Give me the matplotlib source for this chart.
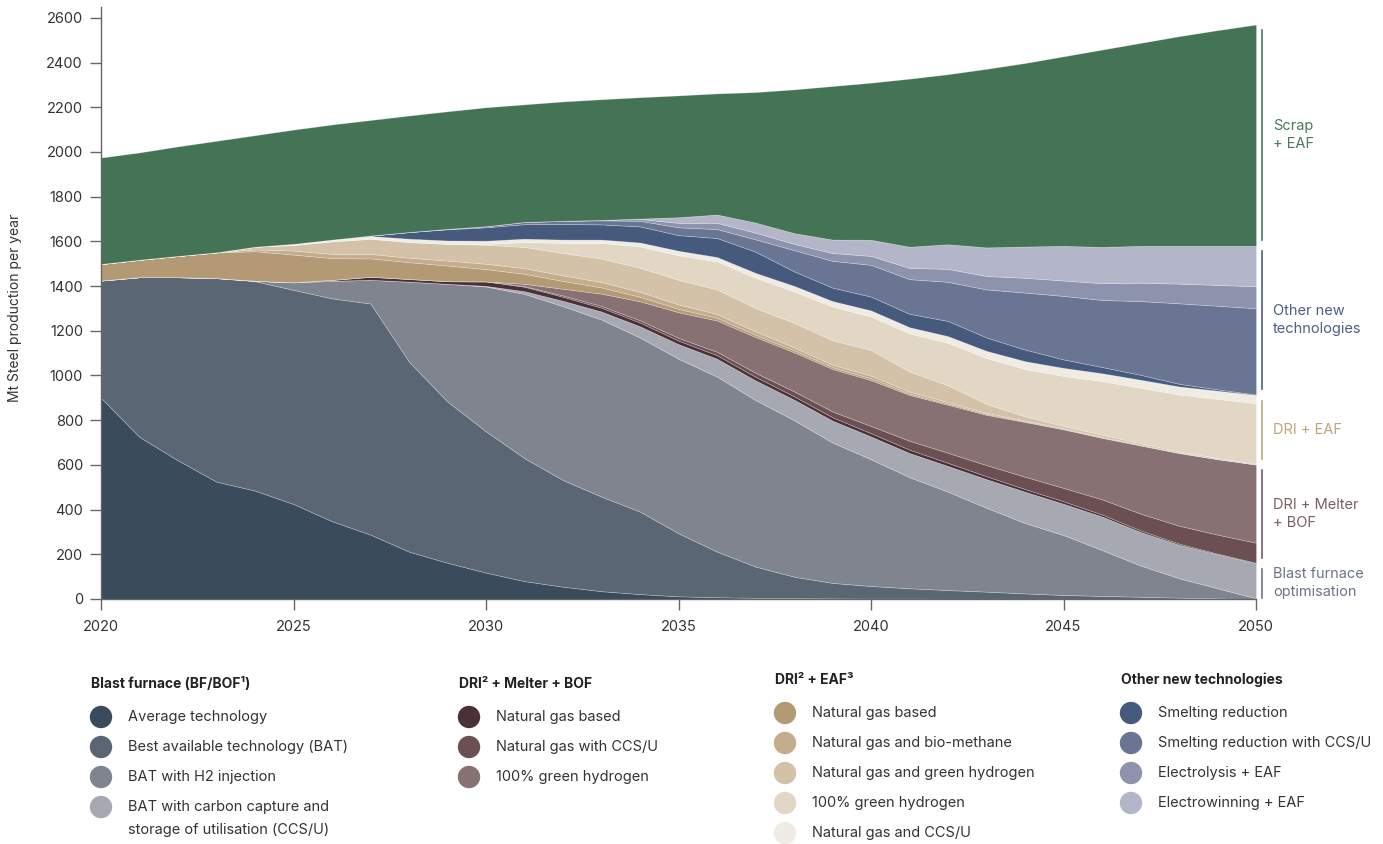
import matplotlib.pyplot as plt

plt.rcParams['font.family'] = ['Inter', 'DejaVu Sans']

years = list(range(2020, 2051))

# Blast furnace (BF/BOF)
bf_average = [900, 725, 620, 525, 485, 425, 348, 288, 212, 162, 118, 80, 55, 35, 22, 12,
              8, 5, 4, 3, 2, 2, 1, 1, 1, 1, 0, 0, 0, 0, 0]
bf_bat = [525, 715, 820, 911, 937, 958, 997, 1034, 850, 721, 632, 550, 477, 423, 369, 282,
          204, 140, 96, 69, 56, 46, 39, 32, 24, 17, 14, 10, 6, 3, 0]
bf_bat_h2 = [0, 0, 0, 0, 2, 34, 79, 106, 358, 527, 648, 735, 778, 792, 779, 781,
             783, 745, 700, 628, 567, 497, 440, 375, 315, 268, 205, 140, 87, 45, 3]
bf_bat_ccs = [0, 0, 0, 0, 0, 0, 0, 0, 0, 0, 3, 12, 24, 36, 50, 65,
              80, 88, 92, 98, 102, 108, 115, 128, 140, 140, 150, 150, 150, 152, 157]

# DRI + Melter + BOF
melt_gas = [0, 0, 0, 0, 0, 0, 4, 14, 12, 12, 20, 20, 18, 17, 17, 16,
            16, 16, 15, 15, 15, 15, 14, 13, 12, 11, 9, 7, 5, 3, 2]
melt_gas_ccs = [0, 0, 0, 0, 0, 0, 0, 0, 0, 0, 0, 3, 6, 8, 10, 12,
                15, 18, 22, 26, 32, 40, 45, 50, 55, 60, 68, 75, 80, 85, 90]
melt_h2 = [0, 0, 0, 0, 0, 0, 0, 0, 0, 0, 0, 10, 30, 55, 85, 115,
           140, 160, 175, 190, 205, 205, 215, 225, 245, 262, 275, 305, 325, 338, 350]

# DRI + EAF
eaf_gas = [74, 78, 95, 115, 132, 124, 97, 82, 75, 70, 55, 45, 35, 28, 20, 15,
           12, 10, 9, 8, 8, 6, 5, 4, 3, 2, 2, 1, 1, 0, 0]
eaf_bio = [0, 0, 0, 0, 8, 18, 19, 20, 20, 22, 24, 25, 25, 24, 22, 20,
           17, 15, 13, 11, 12, 9, 7, 5, 4, 3, 2, 2, 1, 1, 0]
eaf_gas_h2 = [0, 0, 0, 0, 12, 25, 56, 68, 70, 75, 85, 95, 100, 105, 108, 110,
              110, 105, 110, 110, 115, 90, 75, 40, 18, 10, 10, 7, 5, 4, 3]
eaf_h2 = [0, 0, 0, 0, 0, 0, 0, 0, 0, 0, 3, 22, 45, 70, 95, 110,
          125, 135, 140, 150, 150, 170, 190, 205, 212, 224, 240, 248, 255, 264, 271]
eaf_gas_ccs = [0, 0, 0, 0, 0, 5, 8, 12, 15, 15, 15, 15, 15, 15, 18, 20,
               20, 22, 25, 25, 27, 28, 30, 32, 35, 36, 35, 36, 36, 37, 37]

# Other new technologies
smelting = [0, 0, 0, 0, 0, 0, 0, 2, 30, 50, 60, 65, 70, 68, 72, 70,
            85, 95, 65, 60, 62, 60, 68, 60, 52, 38, 28, 22, 12, 6, 2]
smelting_ccs = [0, 0, 0, 0, 0, 0, 0, 0, 0, 2, 5, 10, 14, 18, 25, 35,
                40, 55, 95, 120, 142, 155, 175, 215, 255, 284, 300, 330, 360, 374, 386]
electrolysis = [0, 0, 0, 0, 0, 0, 0, 0, 0, 0, 0, 0, 0, 2, 8, 20,
                28, 30, 28, 35, 40, 50, 58, 60, 66, 69, 75, 82, 88, 93, 98]
electrowinning = [0, 0, 0, 0, 0, 0, 0, 0, 0, 0, 0, 0, 0, 0, 2, 25,
                  37, 45, 48, 60, 72, 95, 110, 128, 140, 155, 162, 165, 169, 175, 181]

# Scrap + EAF
scrap = [476, 480, 490, 499, 499, 511, 515, 517, 521, 526, 532, 526, 534, 540, 543, 545,
         542, 584, 643, 687, 703, 752, 761, 799, 821, 848, 883, 908, 938, 965, 990]

series = [bf_average, bf_bat, bf_bat_h2, bf_bat_ccs,
          melt_gas, melt_gas_ccs, melt_h2,
          eaf_gas, eaf_bio, eaf_gas_h2, eaf_h2, eaf_gas_ccs,
          smelting, smelting_ccs, electrolysis, electrowinning,
          scrap]
colors = ['#3a4b5c', '#5b6675', '#80848f', '#a6a9b2',
          '#4b3036', '#6b4f53', '#877172',
          '#b39a75', '#c4ac8c', '#d3c1a8', '#e2d6c5', '#f0ebe3',
          '#465a7e', '#6a7594', '#8e93ad', '#b3b6c9',
          '#447455']

W, H = 1383, 844
fig = plt.figure(figsize=(W / 100, H / 100), dpi=100)
ax = fig.add_axes([101 / W, 245 / H, 1155 / W, 592.3 / H])

ax.stackplot(years, *series, colors=colors, edgecolor=(1, 1, 1, 0.3), linewidth=0.5)

ax.set_xlim(2020, 2050)
ax.set_ylim(0, 2650)
ax.set_xticks(range(2020, 2051, 5))
ax.set_yticks(range(0, 2601, 200))
for s in ['top', 'right']:
    ax.spines[s].set_visible(False)
for s in ['left', 'bottom']:
    ax.spines[s].set_color('#666666')
    ax.spines[s].set_linewidth(1)
ax.tick_params(length=8, width=1, color='#666666', labelsize=10.5, labelcolor='#333333', pad=5)
ax.tick_params(axis='x', pad=7)

fig.text(15 / W, 1 - 308 / H, 'Mt Steel production per year', rotation=90,
         ha='center', va='center', fontsize=10, color='#333333')

# group brackets on the right
last = [s[-1] for s in series]
groups = [
    ('Blast furnace\noptimisation', 0, 4, '#6c7488'),
    ('DRI + Melter\n+ BOF', 4, 7, '#7b5e62'),
    ('DRI + EAF', 7, 12, '#c0a47c'),
    ('Other new\ntechnologies', 12, 16, '#4d5f86'),
    ('Scrap\n+ EAF', 16, 17, '#4b7a5c'),
]
for label, i0, i1, col in groups:
    lo = sum(last[:i0])
    hi = sum(last[:i1])
    y0 = lo + 25 if lo > 0 else 5
    y1 = hi - 25
    ax.plot([2050.16, 2050.16], [y0, y1], color=col, lw=1.2, clip_on=False)
    ax.text(2050.45, (y0 + y1) / 2, label, color=col, fontsize=10.5,
            va='center', ha='left', linespacing=1.35, clip_on=False)

# legend
lax = fig.add_axes([0, 0, 1, 1])
lax.set_xlim(0, W)
lax.set_ylim(H, 0)
lax.axis('off')

legend_cols = [
    (91, 684, 'Blast furnace (BF/BOF¹)', 717,
     ['Average technology', 'Best available technology (BAT)', 'BAT with H2 injection',
      'BAT with carbon capture and\nstorage of utilisation (CCS/U)'], colors[0:4]),
    (459, 684, 'DRI² + Melter + BOF', 717,
     ['Natural gas based', 'Natural gas with CCS/U', '100% green hydrogen'], colors[4:7]),
    (775, 680, 'DRI² + EAF³', 713,
     ['Natural gas based', 'Natural gas and bio-methane', 'Natural gas and green hydrogen',
      '100% green hydrogen', 'Natural gas and CCS/U'], colors[7:12]),
    (1121, 680, 'Other new technologies', 713,
     ['Smelting reduction', 'Smelting reduction with CCS/U', 'Electrolysis + EAF',
      'Electrowinning + EAF'], colors[12:16]),
]
for x0, yh, head, yi, items, cols in legend_cols:
    lax.text(x0, yh, head, fontsize=10, fontweight='bold', color='#222222',
             va='center', ha='left')
    for k, (name, c) in enumerate(zip(items, cols)):
        yy = yi + 30 * k
        lax.scatter([x0 + 10], [yy], s=260, color=c, edgecolors='none')
        for j, line in enumerate(name.split('\n')):
            lax.text(x0 + 37, yy + 23 * j, line, fontsize=10.5, color='#333333',
                     va='center', ha='left')

fig.savefig('out.png', dpi=100)
